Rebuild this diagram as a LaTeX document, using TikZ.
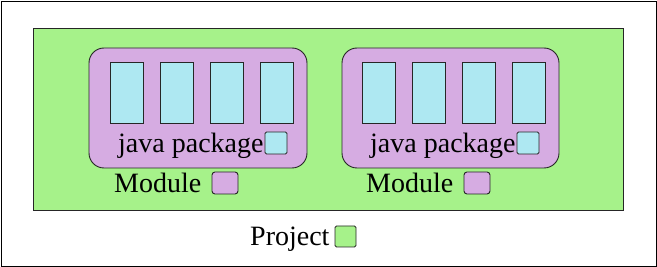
\documentclass[tikz,border=0pt]{standalone}
\usepackage{fontspec}
\setmainfont{Liberation Serif}
\definecolor{projgreen}{RGB}{166,242,138}
\definecolor{modpurple}{RGB}{214,172,226}
\definecolor{pkgblue}{RGB}{174,232,242}
\begin{document}
\begin{tikzpicture}[x=1pt,y=-1pt,
  box/.style={draw=black!85, line width=0.9pt, inner sep=0pt, outer sep=0pt, anchor=north west},
  pkg/.style={box, fill=pkgblue, minimum width=33pt, minimum height=61pt},
  lbl/.style={font=\fontsize{28}{31}\selectfont, inner sep=0pt, anchor=base west}]
\useasboundingbox (0,0) rectangle (657,267);
\node[box, draw=black, fill=white, minimum width=655pt, minimum height=265pt] (frame) at (1,1) {};
\node[box, fill=projgreen, minimum width=590pt, minimum height=182pt] (project) at (33,28) {};
% module 1
\node[box, fill=modpurple, rounded corners=15pt, minimum width=218pt, minimum height=120pt] (mod1) at (89,48) {};
\node[pkg] (p11) at (110,62) {};
\node[pkg] (p12) at (160,62) {};
\node[pkg] (p13) at (210,62) {};
\node[pkg] (p14) at (260,62) {};
\node[lbl] (jp1) at (118,153) {java package};
\node[box, fill=pkgblue, rounded corners=1.5pt, minimum width=22pt, minimum height=22pt] (jpk1) at (265,132) {};
\node[lbl] (ml1) at (114,193) {Module};
\node[box, fill=modpurple, rounded corners=3pt, minimum width=26pt, minimum height=22pt] (mk1) at (212,172) {};
% module 2
\node[box, fill=modpurple, rounded corners=15pt, minimum width=217pt, minimum height=120pt] (mod2) at (342,48) {};
\node[pkg] (p21) at (362,62) {};
\node[pkg] (p22) at (412,62) {};
\node[pkg] (p23) at (462,62) {};
\node[pkg] (p24) at (512,62) {};
\node[lbl] (jp2) at (370,153) {java package};
\node[box, fill=pkgblue, rounded corners=1.5pt, minimum width=22pt, minimum height=22pt] (jpk2) at (517,132) {};
\node[lbl] (ml2) at (366,193) {Module};
\node[box, fill=modpurple, rounded corners=3pt, minimum width=26pt, minimum height=22pt] (mk2) at (464,172) {};
% project legend
\node[lbl] (pl) at (250,246) {Project};
\node[box, fill=projgreen, rounded corners=1.5pt, minimum width=21pt, minimum height=21pt] (pk) at (335,226) {};
\end{tikzpicture}
\end{document}
